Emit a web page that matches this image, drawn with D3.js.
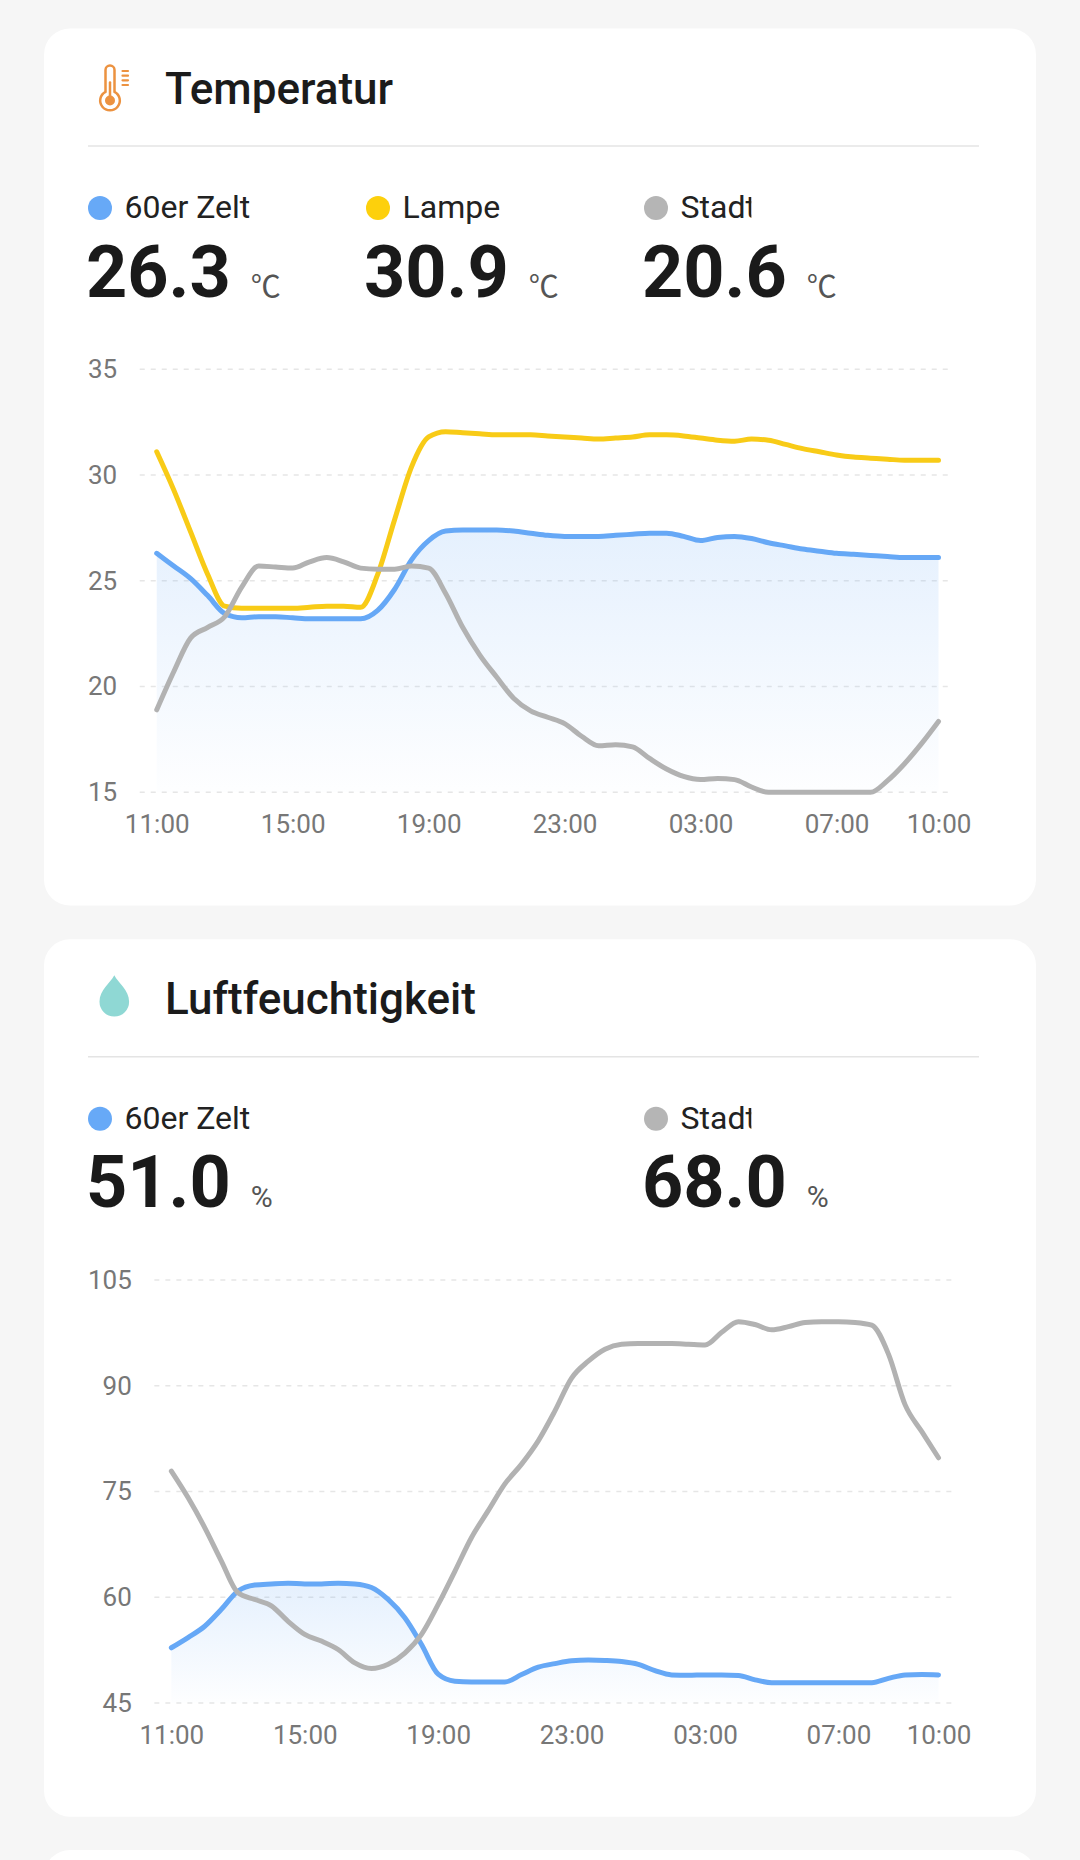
<!DOCTYPE html>
<html><head><meta charset="utf-8">
<script src="https://cdn.jsdelivr.net/npm/d3@7"></script>
<style>
html,body{margin:0;padding:0;background:#f6f6f6;}
svg{display:block;font-family:Roboto,"Noto Sans",sans-serif;}
</style></head><body>
<svg id="c" width="1080" height="1860"></svg>
<script>
// ---- data ----
const startTime = new Date(2024, 0, 1, 11, 0);
const stepMinutes = 30;
const tickLabels = ["11:00", "15:00", "19:00", "23:00", "03:00", "07:00", "10:00"];
const tickHourOffsets = [0, 4, 8, 12, 16, 20, 23];

const tempTicks = [15, 20, 25, 30, 35];
const humTicks = [45, 60, 75, 90, 105];

const tempZelt = [26.3, 25.7, 25.1, 24.3, 23.45, 23.25, 23.3, 23.3, 23.25, 23.2, 23.2, 23.2, 23.2, 23.6, 24.6, 26.0,
  26.9, 27.35, 27.4, 27.4, 27.4, 27.35, 27.25, 27.15, 27.1, 27.1, 27.1, 27.15, 27.2, 27.25, 27.25, 27.1,
  26.9, 27.05, 27.1, 27.0, 26.8, 26.65, 26.5, 26.4, 26.3, 26.25, 26.2, 26.15, 26.1, 26.1, 26.1];
const tempLampe = [31.1, 29.3, 27.3, 25.3, 23.8, 23.7, 23.7, 23.7, 23.7, 23.75, 23.8, 23.8, 23.75, 25.3, 27.9, 30.4,
  31.8, 32.05, 32.0, 31.95, 31.9, 31.9, 31.9, 31.85, 31.8, 31.75, 31.7, 31.75, 31.8, 31.9, 31.9, 31.85,
  31.75, 31.65, 31.6, 31.7, 31.65, 31.45, 31.25, 31.1, 30.95, 30.85, 30.8, 30.75, 30.7, 30.7, 30.7];
const tempStadt = [18.9, 20.7, 22.3, 22.8, 23.3, 24.7, 25.7, 25.65, 25.6, 25.9, 26.1, 25.9, 25.6, 25.55, 25.55, 25.7,
  25.6, 24.4, 22.8, 21.5, 20.45, 19.45, 18.85, 18.55, 18.25, 17.65, 17.2, 17.25, 17.15, 16.6, 16.1, 15.75,
  15.6, 15.65, 15.6, 15.25, 15.0, 15.0, 15.0, 15.0, 15.0, 15.0, 15.0, 15.55, 16.35, 17.3, 18.35];
const humZelt = [52.85, 54.3, 55.9, 58.3, 60.9, 61.75, 61.9, 62.0, 61.9, 61.9, 62.0, 61.9, 61.4, 59.7, 57.1, 53.3,
  49.1, 48.1, 48.0, 48.0, 48.0, 49.05, 50.1, 50.6, 51.0, 51.1, 51.05, 50.9, 50.5, 49.6, 49.0, 48.95,
  49.0, 49.0, 48.9, 48.3, 47.9, 47.9, 47.9, 47.9, 47.9, 47.9, 47.9, 48.5, 49.0, 49.05, 49.0];
const humStadt = [77.9, 74.15, 69.9, 65.15, 60.65, 59.7, 58.8, 56.6, 54.75, 53.8, 52.6, 50.7, 49.9, 50.5, 52.1, 54.75,
  59.0, 63.7, 68.5, 72.3, 76.1, 78.9, 82.2, 86.45, 91.1, 93.5, 95.2, 95.9, 96.0, 96.0, 96.0, 95.9,
  95.8, 97.6, 99.1, 98.7, 97.95, 98.4, 99.0, 99.1, 99.1, 99.0, 98.6, 94.5, 87.3, 83.5, 79.8];

const seriesNames = ["60er Zelt", "Lampe", "Stadt"];
const tempCurrent = ["26.3", "30.9", "20.6"];
const humCurrent = ["51.0", "68.0"];
const tempUnit = "\u2103";
const humUnit = "%";
const titles = ["Temperatur", "Luftfeuchtigkeit"];

// ---- styles ----
const COLORS = { zelt: "#66a8f6", lampe: "#f8cb17", stadt: "#b2b2b2" };
const DOTS = { zelt: "#67a9f7", lampe: "#fdd00c", stadt: "#b5b5b5" };

const svg = d3.select("#c");
const defs = svg.append("defs");
const grad = defs.append("linearGradient").attr("id", "areaGrad")
  .attr("x1", 0).attr("y1", 0).attr("x2", 0).attr("y2", 1);
grad.append("stop").attr("offset", "0%").attr("stop-color", "#66a8f6").attr("stop-opacity", 0.17);
grad.append("stop").attr("offset", "100%").attr("stop-color", "#66a8f6").attr("stop-opacity", 0.01);

// background cards
const cardDefs = [
  { top: 28.5, height: 877 },
  { top: 939.3, height: 877.4 },
  { top: 1850, height: 400 }
];
svg.selectAll("rect.card").data(cardDefs).join("rect").attr("class", "card")
  .attr("x", 44).attr("y", d => d.top).attr("width", 992).attr("height", d => d.height)
  .attr("rx", 26).attr("fill", "#ffffff");

const times = tempZelt.map((_, i) => new Date(startTime.getTime() + i * stepMinutes * 60000));
const tickTimes = tickHourOffsets.map(h => new Date(startTime.getTime() + h * 3600000));
const colX = [88, 366, 644];

const cards = [
  {
    top: 28.5, title: titles[0], icon: "thermo", ticks: tempTicks, unit: tempUnit,
    series: [
      { name: seriesNames[0], key: "zelt", values: tempZelt, current: tempCurrent[0], col: 0, area: true },
      { name: seriesNames[1], key: "lampe", values: tempLampe, current: tempCurrent[1], col: 1 },
      { name: seriesNames[2], key: "stadt", values: tempStadt, current: tempCurrent[2], col: 2, clip: true }
    ]
  },
  {
    top: 939.3, title: titles[1], icon: "drop", ticks: humTicks, unit: humUnit,
    series: [
      { name: seriesNames[0], key: "zelt", values: humZelt, current: humCurrent[0], col: 0, area: true },
      { name: seriesNames[2], key: "stadt", values: humStadt, current: humCurrent[1], col: 2, clip: true }
    ]
  }
];

cards.forEach((card, ci) => {
  const g = svg.append("g").attr("transform", `translate(0,${card.top})`);

  // icon
  if (card.icon === "thermo") {
    const ig = g.append("g").attr("fill", "none").attr("stroke", "#ec9240").attr("stroke-width", 2.5)
      .attr("stroke-linecap", "round");
    const cx = 110, by = 72, r = 9.8, hw = 4.5, top = 37;
    const off = Math.sqrt(r * r - hw * hw);
    ig.append("path").attr("d",
      `M${cx - hw},${by - off} L${cx - hw},${top + hw} A${hw},${hw} 0 0 1 ${cx + hw},${top + hw} L${cx + hw},${by - off} A${r},${r} 0 1 1 ${cx - hw},${by - off} Z`);
    ig.append("line").attr("x1", cx).attr("x2", cx).attr("y1", by - 18).attr("y2", by);
    ig.append("circle").attr("cx", cx).attr("cy", by).attr("r", 5).attr("fill", "#ec9240").attr("stroke", "none");
    [42.5, 47.2, 51.8, 56.5].forEach(y => ig.append("line").attr("x1", 122.5).attr("x2", 128).attr("y1", y).attr("y2", y).attr("stroke-width", 2.2));
  } else {
    const cx = 114.3, topY = 36, cy = 62.5, r = 14.8;
    g.append("path").attr("fill", "#8fd8d4").attr("d",
      `M${cx},${topY} C${cx + 4},${topY + 8} ${cx + r},${cy - 12} ${cx + r},${cy} A${r},${r} 0 1 1 ${cx - r},${cy} C${cx - r},${cy - 12} ${cx - 4},${topY + 8} ${cx},${topY} Z`);
  }

  g.append("text").attr("x", 165).attr("y", 75).attr("font-size", 44).attr("font-weight", 500)
    .attr("fill", "#1b1b1b").text(card.title);
  g.append("line").attr("x1", 88).attr("x2", 979).attr("y1", 117.5).attr("y2", 117.5)
    .attr("stroke", "#e4e4e4").attr("stroke-width", 1.6);

  // legend
  card.series.forEach((s, si) => {
    const x0 = colX[s.col];
    g.append("circle").attr("cx", x0 + 12).attr("cy", 179.5).attr("r", 12).attr("fill", DOTS[s.key]);
    const lab = g.append("text").attr("x", x0 + 36.5).attr("y", 189.5).attr("font-size", 32)
      .attr("fill", "#222").text(s.name);
    if (s.clip) {
      const w = lab.node().getComputedTextLength();
      const id = `clip${ci}_${si}`;
      defs.append("clipPath").attr("id", id).append("rect")
        .attr("x", x0 + 30).attr("y", 140).attr("width", w + 6.5 - 4.5).attr("height", 70);
      lab.attr("clip-path", `url(#${id})`);
    }
    const val = g.append("text").attr("x", x0 - 2).attr("y", 268).attr("font-size", 72)
      .attr("font-weight", 700).attr("fill", "#1a1a1a").text(s.current);
    const vw = val.node().getComputedTextLength();
    g.append("text").attr("x", x0 - 2 + vw + 20).attr("y", 268).attr("font-size", 30)
      .attr("font-family", "Roboto, 'Noto Sans CJK SC', sans-serif")
      .attr("fill", "#555").text(card.unit);
  });

  // chart
  const tmp = g.append("text").attr("font-size", 26);
  const maxW = d3.max(card.ticks, t => { tmp.text(String(t)); return tmp.node().getComputedTextLength(); });
  tmp.remove();
  const plotLeft = 88 + maxW + 39.5;
  const plotRight = 938.5;
  const plotTop = 340.8, plotBottom = 763.8;

  const x = d3.scaleTime().domain([times[0], times[times.length - 1]]).range([plotLeft, plotRight]);
  const y = d3.scaleLinear().domain([card.ticks[0], card.ticks[card.ticks.length - 1]]).range([plotBottom, plotTop]);

  // grid
  const grid = g.append("g");
  grid.selectAll("line").data(card.ticks).join("line")
    .attr("x1", plotLeft - 17).attr("x2", plotRight + 15)
    .attr("y1", d => y(d)).attr("y2", d => y(d))
    .attr("stroke", "#e6e6e6").attr("stroke-width", 1.5).attr("stroke-dasharray", "5,6");

  // y axis labels
  const yAxis = d3.axisLeft(y).tickValues(card.ticks).tickSize(0).tickPadding(0);
  const ya = g.append("g").attr("transform", `translate(${88 + maxW},0)`).call(yAxis);
  ya.select(".domain").remove();
  ya.selectAll("text").attr("font-size", 26).attr("fill", "#777").attr("font-family", "Roboto, sans-serif");

  // x axis labels
  const xAxis = d3.axisBottom(x).tickValues(tickTimes).tickSize(0).tickPadding(0)
    .tickFormat((d, i) => tickLabels[i]);
  const xa = g.append("g").attr("transform", `translate(0,${plotBottom + 22})`).call(xAxis);
  xa.select(".domain").remove();
  xa.selectAll("text").attr("font-size", 26).attr("fill", "#777").attr("font-family", "Roboto, sans-serif");

  const curve = d3.curveMonotoneX;
  // area
  card.series.filter(s => s.area).forEach(s => {
    const area = d3.area().x((d, i) => x(times[i])).y0(plotBottom).y1(d => y(d)).curve(curve);
    g.append("path").datum(s.values).attr("d", area).attr("fill", "url(#areaGrad)");
  });
  // lines
  card.series.forEach(s => {
    const line = d3.line().x((d, i) => x(times[i])).y(d => y(d)).curve(curve);
    g.append("path").datum(s.values).attr("d", line).attr("fill", "none")
      .attr("stroke", COLORS[s.key]).attr("stroke-width", 5)
      .attr("stroke-linejoin", "round").attr("stroke-linecap", "round");
  });
});
</script>
</body></html>
